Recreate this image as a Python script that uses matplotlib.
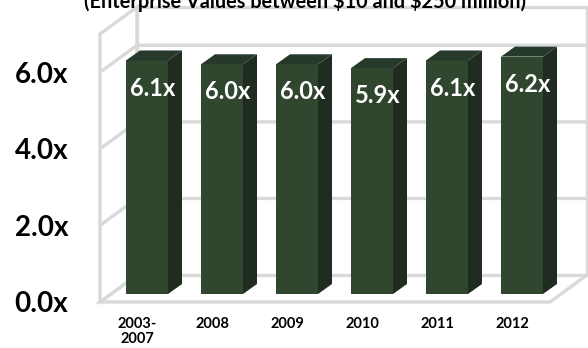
import matplotlib.pyplot as plt
from matplotlib.patches import Polygon
import numpy as np

# --- datos ---
categories = ["2003-\n2007", "2008", "2009", "2010", "2011", "2012"]
values = [6.1, 6.0, 6.0, 5.9, 6.1, 6.2]
value_labels = ["6.1x", "6.0x", "6.0x", "5.9x", "6.1x", "6.2x"]
yticks = [0, 2, 4, 6]
ytick_labels = ["0.0x", "2.0x", "4.0x", "6.0x"]
title = r"(Enterprise Values between \$10 and \$250 million)"

plt.rcParams['font.family'] = ['Lato', 'DejaVu Sans']

FRONT = "#30462f"
SIDE = "#1f2c1f"
TOP = "#27392a"
WALL = "#d9d9d9"

fig = plt.figure(figsize=(5.88, 3.48), dpi=100)
W, H = 588, 348
# axes: frente del cubo 3D -> x 100..550 px, y 302..34 px
ax = fig.add_axes([100 / W, (H - 302) / H, 450 / W, 268 / H])
n = len(values)
x = np.arange(n)
ymax = 7.0
ax.set_xlim(-0.5, n - 0.5)
ax.set_ylim(0, ymax)

# profundidad (en unidades de datos)
ddx, ddy = 37 / 75, 27 / 38.3      # pared del fondo
fx, fy = 9.5 / 75, 8 / 38.3        # cara frontal de las barras
sdx, sdy = 14 / 75, 10 / 38.3      # grosor de las barras
w = 0.56

x0, x1 = -0.5, n - 0.5
wall_kw = dict(facecolor="white", edgecolor=WALL, lw=2.4, clip_on=False, zorder=1)
# suelo, pared izquierda, pared del fondo
ax.add_patch(Polygon([(x0, 0), (x1, 0), (x1 + ddx, ddy), (x0 + ddx, ddy)], **wall_kw))
ax.add_patch(Polygon([(x0, 0), (x0, ymax), (x0 + ddx, ymax + ddy), (x0 + ddx, ddy)], **wall_kw))
ax.add_patch(Polygon([(x0 + ddx, ddy), (x1 + ddx, ddy), (x1 + ddx, ymax + ddy), (x0 + ddx, ymax + ddy)], **wall_kw))

# lineas de cuadricula
for t in yticks[1:]:
    ax.plot([x0, x0 + ddx, x1 + ddx], [t, t + ddy, t + ddy], color=WALL, lw=2.4,
            clip_on=False, zorder=1.5, solid_capstyle='butt')

# barras 3D
ax.bar(x + fx, values, width=w, bottom=fy, color=FRONT, zorder=3)
for xi, v in zip(x, values):
    xl, xr = xi + fx - w / 2, xi + fx + w / 2
    top = fy + v
    ax.add_patch(Polygon([(xr, fy), (xr + sdx, fy + sdy), (xr + sdx, top + sdy), (xr, top)],
                         facecolor=SIDE, edgecolor="none", clip_on=False, zorder=3))
    ax.add_patch(Polygon([(xl, top), (xr, top), (xr + sdx, top + sdy), (xl + sdx, top + sdy)],
                         facecolor=TOP, edgecolor="none", clip_on=False, zorder=3))

for xi, v, lab in zip(x, values, value_labels):
    ax.text(xi + fx + 0.08, fy + v - 0.72, lab, ha="center", va="center",
            color="white", fontsize=17, weight="bold", zorder=4)

ax.set_yticks(yticks)
ax.set_yticklabels(ytick_labels, fontsize=20, weight="bold")
ax.set_xticks(x)
ax.set_xticklabels(categories, fontsize=10.5, weight="bold", linespacing=1.1)
ax.tick_params(axis="y", length=0, pad=23)
ax.tick_params(axis="x", length=0, pad=11)
for s in ax.spines.values():
    s.set_visible(False)
ax.set_facecolor("none")

fig.text(0.519, 1 - 8 / H, title, ha="center", va="baseline", fontsize=14.3, weight="bold")

fig.savefig("out.png", dpi=100)
